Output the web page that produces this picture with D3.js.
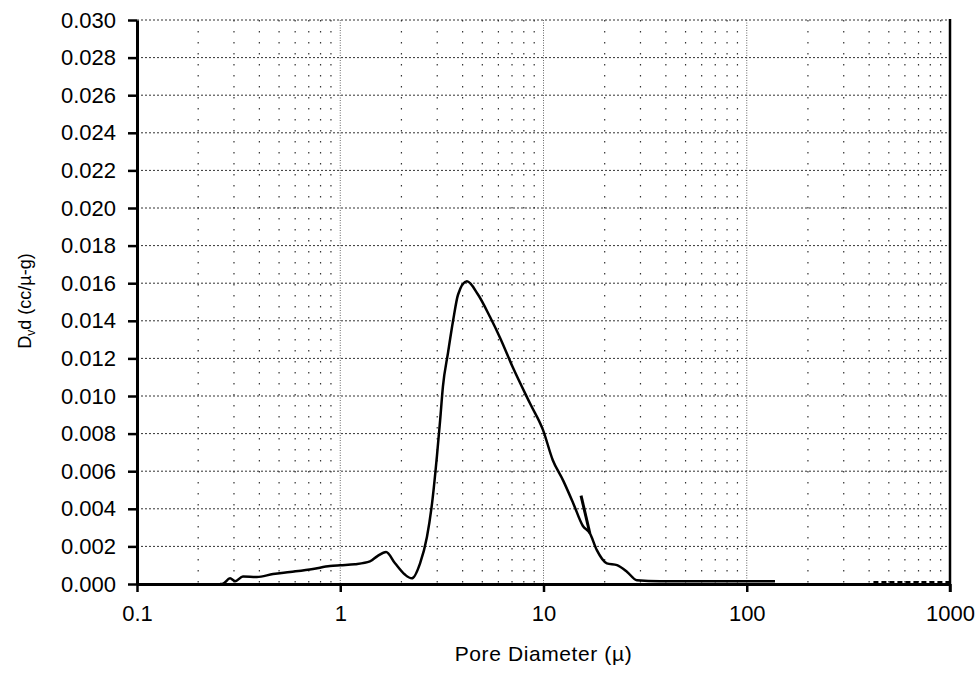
<!DOCTYPE html>
<html>
<head>
<meta charset="utf-8">
<script src="https://cdn.jsdelivr.net/npm/d3@7"></script>
<style>
  html, body { margin: 0; padding: 0; background: #fff; overflow: hidden; }
  svg { display: block; }
  text { font-family: "Liberation Sans", Arial, sans-serif; fill: #000; }
  .tick-label { font-size: 22px; }
  .axis-label { font-size: 21px; letter-spacing: 0.6px; }
  .y-label { font-size: 18px; }
</style>
</head>
<body>
<div id="chart"></div>
<script>
// pore diameter (micron) vs Dv(d) (cc/micron-g)
const poreDiameter = [0.256, 0.265, 0.287, 0.304, 0.332, 0.389, 0.467, 0.566, 0.734, 0.89, 1.0,
  1.18, 1.40, 1.53, 1.68, 1.86, 2.08, 2.25, 2.47, 2.67, 2.83, 2.99, 3.10, 3.20, 3.39, 3.59,
  3.80, 4.20, 4.76, 5.46, 6.11, 7.08, 8.59, 9.94, 11.1, 12.5, 14.0, 15.6, 16.9, 18.3, 20.5,
  23.0, 25.8, 28.8, 37.4, 137.7];
const dvd = [0, 0.00002, 0.0003, 0.00015, 0.0004, 0.00037, 0.00053, 0.00064, 0.0008, 0.00096, 0.001,
  0.00105, 0.0012, 0.0015, 0.0017, 0.0011, 0.0005, 0.0003, 0.0011, 0.0025, 0.0043, 0.0068, 0.0087, 0.0105, 0.0123, 0.014,
  0.0154, 0.0161, 0.0154, 0.0142, 0.0131, 0.0115, 0.0096, 0.0082, 0.0066, 0.0055, 0.0043, 0.0031, 0.0027, 0.0018, 0.0011,
  0.001, 0.00064, 0.0002, 0.00015, 0.00015];

// short stray segment near 15-17 micron
const hookDiameter = [15.3, 16.9];
const hookDvd = [0.0047, 0.0027];

// near-zero trace at the far right
const residualDiameter = [420, 1000];
const residualDvd = [0.0001, 0.0001];

const xTicks = [0.1, 1, 10, 100, 1000];
const xTickLabels = ['0.1', '1', '10', '100', '1000'];
const yTicks = d3.range(0, 0.0301, 0.002);

const xLabel = 'Pore Diameter (\u00b5)';

const margin = { top: 20, right: 29, bottom: 92, left: 137 };
const width = 979;
const height = 676;
const innerWidth = width - margin.left - margin.right;
const innerHeight = height - margin.top - margin.bottom;

const xScale = d3.scaleLog()
  .domain([0.1, 1000])
  .range([0, innerWidth]);

const yScale = d3.scaleLinear()
  .domain([0, 0.03])
  .range([innerHeight, 0]);

const svg = d3.select('#chart').append('svg')
  .attr('width', width)
  .attr('height', height);

const g = svg.append('g')
  .attr('transform', `translate(${margin.left},${margin.top})`);

// minor vertical grid (2..9 in each decade)
const minorX = [];
[0.1, 1, 10, 100].forEach(dec => {
  for (let k = 2; k <= 9; k++) minorX.push(dec * k);
});

g.selectAll('.minor-x').data(minorX)
  .enter().append('line')
  .attr('class', 'minor-x')
  .attr('x1', d => xScale(d)).attr('x2', d => xScale(d))
  .attr('y1', 0).attr('y2', innerHeight)
  .attr('stroke', '#333')
  .attr('stroke-width', 1.2)
  .attr('stroke-dasharray', '1.5,9.5');

// decade vertical grid
g.selectAll('.major-x').data([1, 10, 100])
  .enter().append('line')
  .attr('class', 'major-x')
  .attr('x1', d => xScale(d)).attr('x2', d => xScale(d))
  .attr('y1', 0).attr('y2', innerHeight)
  .attr('stroke', '#666')
  .attr('stroke-width', 1)
  .attr('stroke-dasharray', '1,1.5');

// horizontal grid
g.selectAll('.major-y').data(yTicks.slice(1))
  .enter().append('line')
  .attr('class', 'major-y')
  .attr('x1', 0).attr('x2', innerWidth)
  .attr('y1', d => yScale(d)).attr('y2', d => yScale(d))
  .attr('stroke', '#333')
  .attr('stroke-width', 1)
  .attr('stroke-dasharray', '2,2');

// axes
const xAxis = d3.axisBottom(xScale)
  .tickValues(xTicks)
  .tickFormat((d, i) => xTickLabels[i])
  .tickSizeInner(8)
  .tickSizeOuter(0)
  .tickPadding(13);

const yAxis = d3.axisLeft(yScale)
  .tickValues(yTicks)
  .tickFormat(d3.format('.3f'))
  .tickSizeInner(9)
  .tickSizeOuter(0)
  .tickPadding(12);

const xAxisG = g.append('g')
  .attr('transform', `translate(0,${innerHeight})`)
  .call(xAxis);

const yAxisG = g.append('g').call(yAxis);

[xAxisG, yAxisG].forEach(a => {
  a.select('.domain').attr('stroke', '#000').attr('stroke-width', 3);
  a.selectAll('.tick line').attr('stroke', '#000').attr('stroke-width', 2.5);
  a.selectAll('.tick text')
    .attr('class', 'tick-label')
    .attr('font-family', null)
    .attr('font-size', null);
});

// right frame
g.append('line')
  .attr('x1', innerWidth).attr('x2', innerWidth)
  .attr('y1', -1).attr('y2', innerHeight + 8)
  .attr('stroke', '#000')
  .attr('stroke-width', 2.5);

// curves
const line = d3.line()
  .x(d => xScale(d[0]))
  .y(d => yScale(d[1]));

g.append('path')
  .datum(d3.zip(residualDiameter, residualDvd))
  .attr('fill', 'none')
  .attr('stroke', '#000')
  .attr('stroke-width', 2)
  .attr('stroke-dasharray', '5,3')
  .attr('d', line);

g.append('path')
  .datum(d3.zip(poreDiameter, dvd))
  .attr('fill', 'none')
  .attr('stroke', '#000')
  .attr('stroke-width', 2.5)
  .attr('stroke-linejoin', 'round')
  .attr('d', line.curve(d3.curveMonotoneX));

g.append('path')
  .datum(d3.zip(hookDiameter, hookDvd))
  .attr('fill', 'none')
  .attr('stroke', '#000')
  .attr('stroke-width', 3)
  .attr('d', d3.line().x(d => xScale(d[0])).y(d => yScale(d[1])));

// axis labels
svg.append('text')
  .attr('class', 'axis-label')
  .attr('x', margin.left + xScale(10))
  .attr('y', 661)
  .attr('text-anchor', 'middle')
  .text(xLabel);

const yLab = svg.append('text')
  .attr('class', 'y-label')
  .attr('transform', 'translate(31,301) rotate(-90)')
  .attr('text-anchor', 'middle');
yLab.append('tspan').text('D');
yLab.append('tspan').attr('font-size', '12px').attr('dy', 4).text('v');
yLab.append('tspan').attr('dy', -4).text('d (cc/\u00b5-g)');
</script>
</body>
</html>
